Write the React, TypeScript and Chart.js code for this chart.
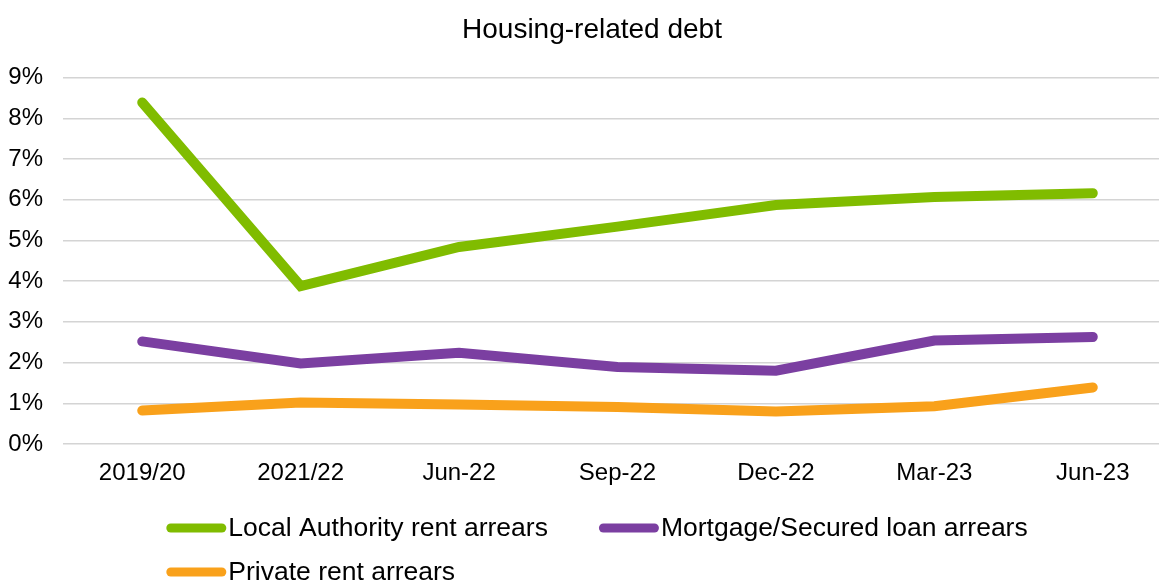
import React, { useEffect, useRef } from "react";
import { Chart, registerables } from "chart.js";

Chart.register(...registerables);

const categories = ["2019/20", "2021/22", "Jun-22", "Sep-22", "Dec-22", "Mar-23", "Jun-23"];
const localAuthority = [8.39, 3.88, 4.84, 5.34, 5.87, 6.07, 6.16];
const mortgage = [2.52, 1.98, 2.24, 1.89, 1.8, 2.54, 2.63];
const privateRent = [0.82, 1.02, 0.97, 0.91, 0.8, 0.93, 1.39];
const seriesLabels = ["Local Authority rent arrears", "Mortgage/Secured loan arrears", "Private rent arrears"];
const seriesColors = ["#80BC00", "#7B3FA1", "#F9A11B"];
const yTicks = [0, 1, 2, 3, 4, 5, 6, 7, 8, 9];

const FONT = "'Liberation Sans', Arial, sans-serif";

const titleShiftPlugin = {
  id: "titleShift",
  afterLayout(chart: any) {
    if (chart.titleBlock) {
      chart.titleBlock.left += 12;
    }
  },
};

const legendPlugin = {
  id: "customLegend",
  afterDraw(chart: any) {
    const ctx = chart.ctx as CanvasRenderingContext2D;
    const area = chart.chartArea;
    const items = chart.data.datasets.map((d: any) => ({ label: d.label, color: d.borderColor }));
    ctx.save();
    ctx.font = `26.5px ${FONT}`;
    ctx.textBaseline = "middle";
    ctx.textAlign = "left";
    const lineW = 60;
    const gapText = 2;
    const gapItems = 51;
    const widths = items.map((it: any) => lineW + gapText + ctx.measureText(it.label).width);
    const row1 = [0, 1];
    const row1W = widths[0] + gapItems + widths[1];
    const startX = chart.width / 2 + 5 - row1W / 2;
    const rows = [
      { idx: row1, y: area.bottom + 84 },
      { idx: [2], y: area.bottom + 128 },
    ];
    rows.forEach((row) => {
      let x = startX;
      row.idx.forEach((i) => {
        const it = items[i];
        ctx.strokeStyle = it.color;
        ctx.lineWidth = 9;
        ctx.lineCap = "round";
        ctx.beginPath();
        ctx.moveTo(x + 4.5, row.y);
        ctx.lineTo(x + lineW - 4.5, row.y);
        ctx.stroke();
        ctx.fillStyle = "#000";
        ctx.fillText(it.label, x + lineW + gapText, row.y + 1);
        x += widths[i] + gapItems;
      });
    });
    ctx.restore();
  },
};

export default function App() {
  const ref = useRef<HTMLCanvasElement>(null);
  useEffect(() => {
    if (!ref.current) return;
    const mk = (label: string, data: number[], color: string) => ({
      label,
      data,
      borderColor: color,
      backgroundColor: color,
      borderWidth: 10,
      borderCapStyle: "round" as const,
      borderJoinStyle: "miter" as const,
      pointRadius: 0,
      pointHoverRadius: 0,
      tension: 0,
      fill: false,
    });
    const chart = new Chart(ref.current, {
      type: "line",
      data: {
        labels: categories,
        datasets: [
          mk(seriesLabels[0], localAuthority, seriesColors[0]),
          mk(seriesLabels[1], mortgage, seriesColors[1]),
          mk(seriesLabels[2], privateRent, seriesColors[2]),
        ],
      },
      options: {
        animation: false,
        responsive: true,
        maintainAspectRatio: false,
        layout: { padding: { left: 0, right: 12, top: 0, bottom: 0 } },
        plugins: {
          legend: { display: false },
          tooltip: { enabled: false },
          title: {
            display: true,
            text: "Housing-related debt",
            color: "#000",
            font: { family: FONT, size: 28, weight: "normal" as const },
            padding: { top: 13, bottom: 31 },
          },
        },
        scales: {
          x: {
            offset: true,
            grid: { display: false, drawTicks: false },
            border: { display: false },
            ticks: { color: "#000", font: { family: FONT, size: 24 }, padding: 15, maxRotation: 0, autoSkip: false },
            afterFit: (s: any) => {
              s.height = 137;
            },
          },
          y: {
            min: 0,
            max: 9,
            afterBuildTicks: (s: any) => {
              s.ticks = yTicks.map((v) => ({ value: v }));
            },
            grid: { color: "#D4D4D4", lineWidth: 1.5, drawTicks: false },
            border: { display: false },
            ticks: {
              color: "#000",
              font: { family: FONT, size: 24 },
              padding: 20,
              callback: (v: any) => `${v}%`,
            },
            afterFit: (s: any) => {
              s.width = 63;
            },
          },
        },
      },
      plugins: [titleShiftPlugin, legendPlugin],
    });
    return () => chart.destroy();
  }, []);
  return (
    <div style={{ position: "fixed", left: 0, top: 0, width: 1159, height: 581, overflow: "hidden", background: "#fff" }}>
      <div style={{ position: "relative", width: 1184, height: 581 }}>
        <canvas ref={ref} />
      </div>
    </div>
  );
}
